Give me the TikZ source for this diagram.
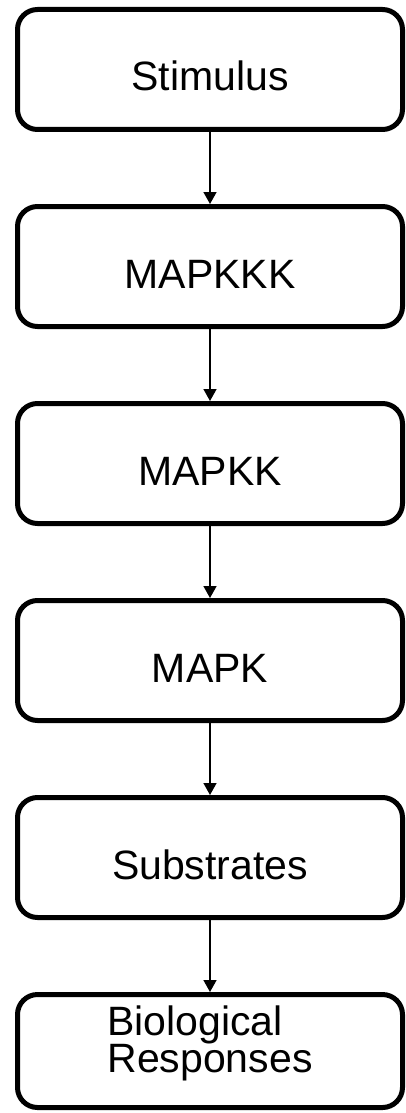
\documentclass[tikz,border=0pt]{standalone}
\usepackage{fontspec}
\setmainfont{Liberation Sans}
\usetikzlibrary{arrows.meta,positioning}
\begin{document}
\begin{tikzpicture}[x=1pt, y=1pt,
		stage/.style={draw, line width=5pt, rounded corners=20pt, minimum width=385pt, minimum height=120pt, inner sep=0pt, font=\fontsize{41}{37}\selectfont, text height=43pt, text depth=0pt},
		flow/.style={-{Triangle[width=13pt, length=12pt]}, line width=1.6pt},
	]
		\useasboundingbox (0,0) rectangle (406,-1113);
		\node (stim) [stage] at (210,-69.5) {Stimulus};
		\node (mkkk) [stage, below=72pt of stim] {MAPKKK};
		\node (mkk) [stage, below=72pt of mkkk] {MAPKK};
		\node (mk) [stage, below=72pt of mkk] {MAPK};
		\node (sub) [stage, below=72pt of mk] {Substrates};
		\node (bio) [stage, below=72pt of sub, minimum height=113pt, align=left] {Biological\\Responses};
		
		\draw[flow] (stim) -- (mkkk);
		\draw[flow] (mkkk) -- (mkk);
		\draw[flow] (mkk) -- (mk);
		\draw[flow] (mk) -- (sub);
		\draw[flow] (sub) -- (bio);
	\end{tikzpicture}
\end{document}
